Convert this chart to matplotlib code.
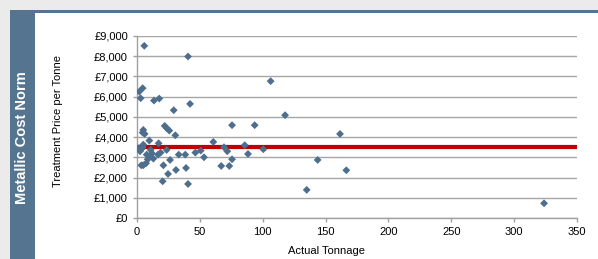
import matplotlib
matplotlib.use("Agg")
import matplotlib.pyplot as plt
from matplotlib.patches import Rectangle
from matplotlib.ticker import FuncFormatter, MultipleLocator

plt.rcParams['font.family'] = ['Liberation Sans', 'DejaVu Sans']

tonnage = [5.8, 40.6, 1.8, 4.5, 2.9, 13.5, 17.7, 29.2, 42.2, 106.3, 117.8, 75.6, 93.6,
           161.5, 143.7, 166.5, 135, 323.8,
           5, 6.1, 4.5, 22, 24, 25.7, 30.5, 9.8, 17.2, 60.7,
           5, 4.5, 3.4, 2.4, 10.9, 11.9, 13, 10.3, 7.7, 23.6, 18.8, 16.7,
           33.2, 38.4, 46.4, 50.7, 53.3, 69.2, 71.8, 75.6, 67, 73.4, 85.7, 88.3, 100.5,
           5, 7.2, 3.4, 21, 26.3, 24.7, 20.4, 31, 39, 40.6, 8.5, 1.0]
price = [8515, 7987, 6250, 6420, 5925, 5807, 5906, 5330, 5643, 6767, 5085, 4590, 4590,
         4158, 2870, 2360, 1390, 727,
         4356, 4158, 4224, 4554, 4421, 4322, 4092, 3828, 3696, 3762,
         3630, 3500, 3400, 3300, 3366, 3200, 2935, 3069, 3135, 3366, 3234, 3135,
         3135, 3135, 3234, 3333, 3003, 3500, 3300, 2904, 2574, 2574, 3600, 3168, 3400,
         2607, 2706, 2607, 2607, 2871, 2178, 1815, 2376, 2475, 1683, 2900, 3450]
norm_value = 3500

fig = plt.figure(figsize=(5.98, 2.59), dpi=100)
fig.patch.set_facecolor('#ebebeb')
W, H = 598, 259
# panel
fig.add_artist(Rectangle((10 / W, 0), 1 - 10 / W, 1 - 10 / H, transform=fig.transFigure,
                         facecolor='white', edgecolor='none', zorder=0))
fig.add_artist(Rectangle((10 / W, 1 - 13 / H), 1 - 10 / W, 3 / H, transform=fig.transFigure,
                         facecolor='#557490', edgecolor='none', zorder=1))
fig.add_artist(Rectangle((10 / W, 0), 25 / W, 1 - 10 / H, transform=fig.transFigure,
                         facecolor='#557490', edgecolor='none', zorder=1))
fig.text(22.5 / W, 0.47, 'Metallic Cost Norm', rotation=90, color='white',
         fontsize=10.5, fontweight='bold', ha='center', va='center')

ax = fig.add_axes([137 / W, 1 - 218 / H, 440 / W, 182 / H])
ax.set_xlim(0, 350)
ax.set_ylim(0, 9000)
ax.yaxis.set_major_locator(MultipleLocator(1000))
ax.xaxis.set_major_locator(MultipleLocator(50))
ax.yaxis.set_major_formatter(FuncFormatter(lambda v, p: '£{:,.0f}'.format(v)))
ax.grid(axis='y', color='#a6a6a6', linewidth=1.0)
ax.set_axisbelow(True)
for s in ['top', 'right']:
    ax.spines[s].set_visible(False)
for s in ['left', 'bottom']:
    ax.spines[s].set_color('#a0a0a0')
    ax.spines[s].set_linewidth(1.0)
ax.tick_params(axis='both', colors='#a0a0a0', labelcolor='black', labelsize=8, length=3, width=1)
ax.axhline(norm_value, color='#c00000', linewidth=3.0, zorder=2)
ax.scatter(tonnage, price, marker='D', s=16, color='#4e6e8e', edgecolors='none', zorder=3)

fig.text(327 / W, 1 - 251 / H, 'Actual Tonnage', fontsize=8, ha='center', va='center')
fig.text(58 / W, 1 - 121 / H, 'Treatment Price per Tonne', fontsize=8, rotation=90,
         ha='center', va='center')

fig.savefig('out.png', dpi=100, facecolor=fig.get_facecolor())
